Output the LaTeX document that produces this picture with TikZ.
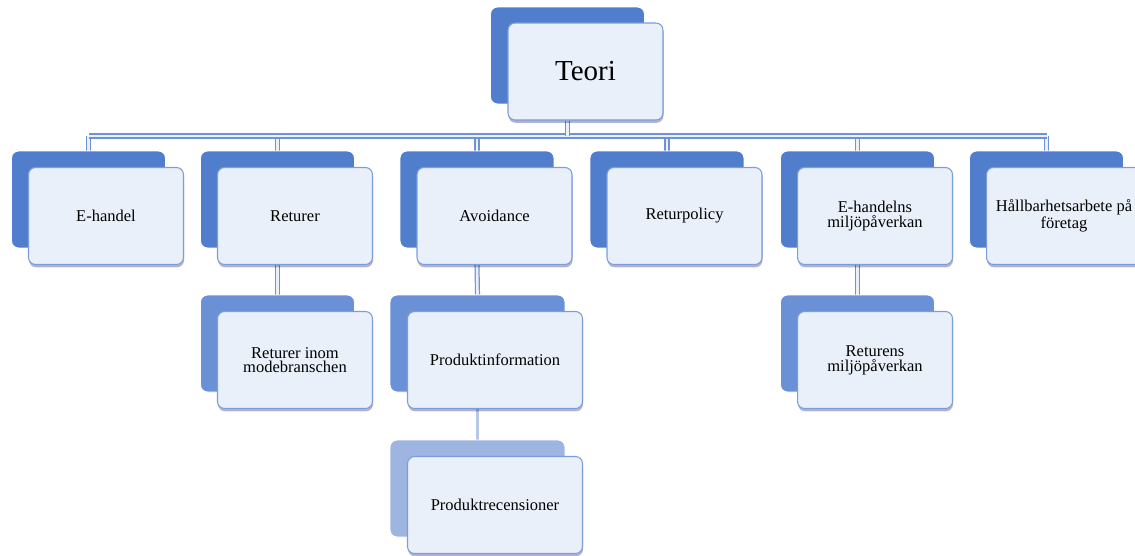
\documentclass[tikz,border=0pt]{standalone}
\usepackage{fontspec}
\setmainfont{Liberation Serif}
\usetikzlibrary{positioning, shadows, backgrounds}

\definecolor{backA}{RGB}{80,125,204}
\definecolor{backB}{RGB}{106,144,214}
\definecolor{backC}{RGB}{158,181,226}
\definecolor{cardfill}{RGB}{234,240,250}
\definecolor{cardline}{RGB}{122,157,219}
\definecolor{connline}{RGB}{110,146,216}

\begin{document}
\begin{tikzpicture}[x=0.02cm, y=-0.02cm,
  back/.style={rounded corners=4pt, minimum width=3.08cm, minimum height=1.94cm,
               fill=backA, draw=white, line width=0.5pt},
  card/.style={rounded corners=4pt, minimum width=3.1cm, minimum height=1.94cm,
               fill=cardfill, draw=cardline, line width=0.6pt, align=center, inner sep=2pt,
               font=\fontsize{9.4}{8.4}\selectfont,
               drop shadow={shadow xshift=0.3pt, shadow yshift=-1.6pt, fill=blue!45!black, opacity=0.3}},
  wide/.style={minimum width=3.5cm},
  conn/.style={draw=connline, line width=0.7pt, double=cardfill, double distance=1.5pt},
  connL/.style={draw=backC!75, line width=2.2pt},
]

\useasboundingbox (0,0) rectangle (1135,555);

% --- Top: Teori ---
\node[back] (teoriBack) at (567.5,55.5) {};
\node[card, font=\fontsize{16.5}{20}\selectfont] (teori) at ([shift={(18,16)}]teoriBack) {Teori};

\coordinate (bus) at (0,136);

% --- Row 1 ---
\node[back] (ehBack) at (88.5,199.5) {};
\node[card] (ehandel) at ([shift={(17.5,16.5)}]ehBack) {E-handel};

\node[back] (returBack) at (277.5,199.5) {};
\node[card] (returer) at ([shift={(17.5,16.5)}]returBack) {Returer};

\node[back] (avoidBack) at (477,199.5) {};
\node[card] (avoid) at ([shift={(17.5,16.5)}]avoidBack) {Avoidance};

\node[back] (policyBack) at (667,199.5) {};
\node[card] (policy) at ([shift={(17.5,16.5)}]policyBack) {Returpolicy};

\node[back] (miljoBack) at (857.5,199.5) {};
\node[card] (miljo) at ([shift={(17.5,16.5)}]miljoBack) {E-handelns\\miljöpåverkan};

\node[back] (hallbBack) at (1046.5,199.5) {};
\node[card] (hallb) at ([shift={(17.5,16.5)}]hallbBack) {Hållbarhetsarbete på\\företag};

% --- Row 2 ---
\node[back, fill=backB] (modeBack) at (277.5,343.5) {};
\node[card] (mode) at ([shift={(17.5,16.5)}]modeBack) {Returer inom\\modebranschen};

\node[back, wide, fill=backB] (infoBack) at (477.5,343.5) {};
\node[card, wide] (info) at ([shift={(17.5,16.5)}]infoBack) {Produktinformation};

\node[back, fill=backB] (retmiljoBack) at (857.5,343.5) {};
\node[card] (retmiljo) at ([shift={(17.5,16.5)}]retmiljoBack) {Returens\\miljöpåverkan};

% --- Row 3 ---
\node[back, wide, fill=backC] (recBack) at (477.5,488.5) {};
\node[card, wide] (rec) at ([shift={(17.5,16.5)}]recBack) {Produktrecensioner};

% --- Connectors ---
\begin{scope}[on background layer]
  \foreach \child in {ehBack, returBack, avoidBack, policyBack, miljoBack, hallbBack}
    \draw[conn] (bus -| \child) -- (\child.north);
  \draw[conn] (bus -| ehBack) -- (bus -| hallbBack);
  \draw[conn] (teoriBack |- teori.south) -- (teoriBack |- bus);
  \draw[conn] (returBack |- returer.south) -- (modeBack.north);
  \draw[conn] (avoidBack |- avoid.south) -- (infoBack.north);
  \draw[conn] (miljoBack |- miljo.south) -- (retmiljoBack.north);
  \draw[connL] (infoBack |- info.south) -- (recBack.north);
\end{scope}

\end{tikzpicture}
\end{document}
